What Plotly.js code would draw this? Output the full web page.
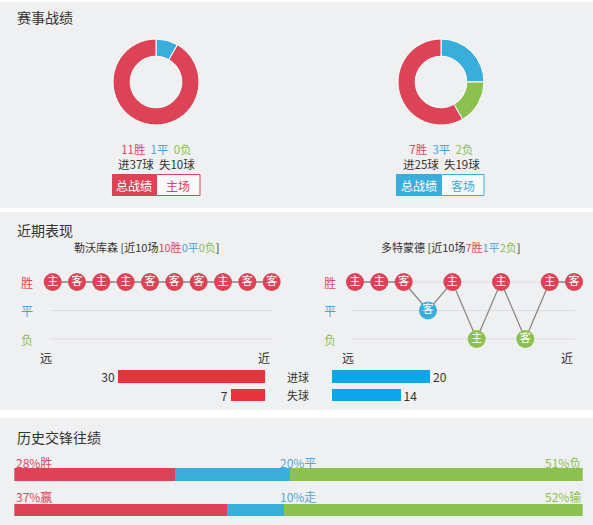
<!DOCTYPE html>
<html><head><meta charset="utf-8">
<script src="https://cdn.plot.ly/plotly-3.0.1.min.js"></script>
<style>html,body{margin:0;padding:0;background:#fff}#c{width:593px;height:525px}</style>
</head><body><div id="c"></div>
<script>
// ---------- data ----------
const sectionTitles = ['赛事战绩', '近期表现', '历史交锋往绩'];
const outcomeLabels = ['胜', '平', '负'];
const team1Name = '勒沃库森';
const team2Name = '多特蒙德';
const team1Record = [11, 1, 0];     // 胜 平 负
const team2Record = [7, 3, 2];
const team1Goals = [37, 10];        // 进 失
const team2Goals = [25, 19];
const team1Button = '主场';
const team2Button = '客场';
const totalButton = '总战绩';
const team1Form = ['W','W','W','W','W','W','W','W','W','W'];
const team1Venue = ['主','客','主','主','客','客','客','主','客','客'];
const team2Form = ['W','W','W','D','W','L','W','L','W','W'];
const team2Venue = ['主','主','客','客','主','主','主','客','主','客'];
const recentGoalLabels = ['进球', '失球'];
const team1RecentGoals = [30, 7];
const team2RecentGoals = [20, 14];
const farNear = ['远', '近'];
const h2hRow1 = [28, 20, 51];
const h2hRow1Labels = ['胜', '平', '负'];
const h2hRow2 = [37, 10, 52];
const h2hRow2Labels = ['赢', '走', '输'];

// ---------- styling / geometry ----------
const W = 593, H = 525;
const RED = '#dc4356', BLUE = '#3aaedb', GREEN = '#8cc152';
const TRED = '#d9495a', TBLUE = '#4aa3d8', TGREEN = '#8cc152';
const FONT = '"Noto Sans CJK SC", "Noto Sans", sans-serif';
const px = x => x / W, py = y => 1 - y / H;
const dx = (a, b) => [a / W, b / W];
const dy = (t, b) => [1 - b / H, 1 - t / H];
const resColor = {W: RED, D: BLUE, L: GREEN};
const resVal = {W: 2, D: 1, L: 0};

function ann(text, x, y, opts) {
  return Object.assign({text, x: px(x), y: py(y), xref: 'paper', yref: 'paper',
    showarrow: false, xanchor: 'center', yanchor: 'middle',
    font: {family: FONT, size: 12, color: '#333'}}, opts || {});
}
function rect(x0, y0, x1, y1, fill, line) {
  return {type: 'rect', xref: 'paper', yref: 'paper', x0: px(x0), x1: px(x1), y0: py(y1), y1: py(y0),
    fillcolor: fill, line: {width: line ? 1 : 0, color: line || fill}, layer: 'below'};
}
function recordText(rec, goals) {
  const cs = [TRED, TBLUE, TGREEN];
  const top = rec.map((v, i) => `<span style="color:${cs[i]}">${v}${outcomeLabels[i]}</span>`).join('&nbsp;&nbsp;');
  return top + `<br>进${goals[0]}球&nbsp;&nbsp;失${goals[1]}球`;
}
function formSummary(name, form) {
  const w = form.filter(f => f === 'W').length, d = form.filter(f => f === 'D').length, l = form.filter(f => f === 'L').length;
  return `${name} [近${form.length}场<span style="color:${TRED}">${w}胜</span><span style="color:${TBLUE}">${d}平</span><span style="color:${TGREEN}">${l}负</span>]`;
}

const traces = [];
// donuts
[[team1Record, 113, 199], [team2Record, 398, 484]].forEach(([rec, a, b]) => {
  traces.push({type: 'pie', values: [rec[1], rec[2], rec[0]], labels: ['平', '负', '胜'],
    marker: {colors: [BLUE, GREEN, RED], line: {color: '#fff', width: 1}},
    sort: false, direction: 'clockwise', rotation: 0, hole: 0.6, textinfo: 'none',
    hoverinfo: 'none', showlegend: false, domain: {x: dx(a, b), y: dy(39, 125)}});
});

// recent form lines
const xs = team1Form.map((_, i) => i + 1);
[[team1Form, team1Venue, 'x2', 'y2'], [team2Form, team2Venue, 'x3', 'y3']].forEach(([f, v, xa, ya]) => {
  traces.push({type: 'scatter', mode: 'lines+markers+text', x: xs, y: f.map(r => resVal[r]),
    text: v, textposition: 'middle center', textfont: {family: FONT, size: 11, color: '#fff'},
    line: {color: '#8a8a8a', width: 1.3},
    marker: {size: 18, color: f.map(r => resColor[r]), line: {width: 0}},
    xaxis: xa, yaxis: ya, showlegend: false, cliponaxis: false, hoverinfo: 'none'});
});

// recent goals bars
traces.push({type: 'bar', orientation: 'h', y: [0, 1], x: team1RecentGoals, width: 0.7,
  marker: {color: '#e8333d', line: {width: 0}}, text: team1RecentGoals.map(String),
  textposition: 'outside', constraintext: 'none', textfont: {family: FONT, size: 12, color: '#333'}, cliponaxis: false,
  xaxis: 'x4', yaxis: 'y4', showlegend: false, hoverinfo: 'none'});
traces.push({type: 'bar', orientation: 'h', y: [0, 1], x: team2RecentGoals, width: 0.7,
  marker: {color: '#0fa5e9', line: {width: 0}}, text: team2RecentGoals.map(String),
  textposition: 'outside', constraintext: 'none', textfont: {family: FONT, size: 12, color: '#333'}, cliponaxis: false,
  xaxis: 'x5', yaxis: 'y5', showlegend: false, hoverinfo: 'none'});

// h2h stacked bars
[RED, BLUE, GREEN].forEach((c, i) => {
  traces.push({type: 'bar', orientation: 'h', y: [0, 1], x: [h2hRow1[i], h2hRow2[i]], width: 0.35,
    marker: {color: c, line: {width: 0}}, xaxis: 'x6', yaxis: 'y6', showlegend: false,
    hoverinfo: 'none', textposition: 'none'});
});

const hid = {visible: false, fixedrange: true};
const rowsGrid = [0, 1, 2];
const shapes = [
  rect(0, 2, 593, 208, '#eff0f2'),
  rect(0, 212, 593, 410, '#eff0f2'),
  rect(0, 418, 593, 525, '#eff0f2'),
  rect(112, 174, 156, 196, RED),
  rect(156.5, 174.5, 200, 195.5, '#f9f9fa', RED),
  rect(396, 174, 441, 196, BLUE),
  rect(441.5, 174.5, 484, 195.5, '#f9f9fa', BLUE),
];
rowsGrid.forEach(r => {
  shapes.push({type: 'line', xref: 'paper', yref: 'y2', x0: px(50), x1: px(273), y0: r, y1: r,
    line: {color: '#dcdde1', width: 1}, layer: 'below'});
  shapes.push({type: 'line', xref: 'paper', yref: 'y3', x0: px(352), x1: px(575), y0: r, y1: r,
    line: {color: '#dcdde1', width: 1}, layer: 'below'});
});

const yLabelColors = [TRED, TBLUE, TGREEN];
const yLabelPos = [282, 310.5, 339];
const annotations = [
  ann(sectionTitles[0], 15, 17, {xanchor: 'left', font: {family: FONT, size: 14, color: '#333'}}),
  ann(sectionTitles[1], 15, 230, {xanchor: 'left', font: {family: FONT, size: 14, color: '#333'}}),
  ann(sectionTitles[2], 15, 437, {xanchor: 'left', font: {family: FONT, size: 14, color: '#333'}}),
  ann(recordText(team1Record, team1Goals), 156, 156, {font: {family: FONT, size: 11.5, color: '#333'}}),
  ann(recordText(team2Record, team2Goals), 441, 156, {font: {family: FONT, size: 11.5, color: '#333'}}),
  ann(totalButton, 134, 185, {font: {family: FONT, size: 12, color: '#fff'}}),
  ann(team1Button, 178, 185, {font: {family: FONT, size: 12, color: RED}}),
  ann(totalButton, 418.5, 185, {font: {family: FONT, size: 12, color: '#fff'}}),
  ann(team2Button, 462.5, 185, {font: {family: FONT, size: 12, color: BLUE}}),
  ann(formSummary(team1Name, team1Form), 147, 247, {font: {family: FONT, size: 11, color: '#333'}}),
  ann(formSummary(team2Name, team2Form), 450, 247, {font: {family: FONT, size: 11, color: '#333'}}),
  ann(farNear[0], 46, 357), ann(farNear[1], 264, 357),
  ann(farNear[0], 348, 357), ann(farNear[1], 567, 357),
  ann(recentGoalLabels[0], 298, 376.5, {font: {family: FONT, size: 11, color: '#333'}}),
  ann(recentGoalLabels[1], 298, 395, {font: {family: FONT, size: 11, color: '#333'}}),
];
outcomeLabels.forEach((l, i) => {
  annotations.push(ann(l, 27, yLabelPos[i], {font: {family: FONT, size: 12, color: yLabelColors[i]}}));
  annotations.push(ann(l, 330, yLabelPos[i], {font: {family: FONT, size: 12, color: yLabelColors[i]}}));
});
[[h2hRow1, h2hRow1Labels, 462], [h2hRow2, h2hRow2Labels, 496]].forEach(([vals, labs, y]) => {
  annotations.push(ann(vals[0] + '%' + labs[0], 14, y, {xanchor: 'left', font: {family: FONT, size: 12, color: TRED}}));
  annotations.push(ann(vals[1] + '%' + labs[1], 298, y, {font: {family: FONT, size: 12, color: '#5aa5d6'}}));
  annotations.push(ann(vals[2] + '%' + labs[2], 583, y, {xanchor: 'right', font: {family: FONT, size: 12, color: TGREEN}}));
});

const layout = {
  width: W, height: H, margin: {l: 0, r: 0, t: 0, b: 0},
  paper_bgcolor: '#fff', plot_bgcolor: 'rgba(0,0,0,0)',
  font: {family: FONT}, showlegend: false, hovermode: false, barmode: 'stack',
  xaxis2: Object.assign({domain: dx(40.5, 283.8), range: [0.5, 10.5], anchor: 'y2'}, hid),
  yaxis2: Object.assign({domain: dy(267.75, 353.25), range: [-0.5, 2.5], anchor: 'x2'}, hid),
  xaxis3: Object.assign({domain: dx(342.8, 586.2), range: [0.5, 10.5], anchor: 'y3'}, hid),
  yaxis3: Object.assign({domain: dy(267.75, 353.25), range: [-0.5, 2.5], anchor: 'x3'}, hid),
  xaxis4: Object.assign({domain: dx(100, 265), range: [33.67, 0], anchor: 'y4'}, hid),
  yaxis4: Object.assign({domain: dy(367.25, 404.25), range: [1.5, -0.5], anchor: 'x4'}, hid),
  xaxis5: Object.assign({domain: dx(332, 497), range: [0, 33.67], anchor: 'y5'}, hid),
  yaxis5: Object.assign({domain: dy(367.25, 404.25), range: [1.5, -0.5], anchor: 'x5'}, hid),
  xaxis6: Object.assign({domain: dx(14.3, 582.7), range: [0, 99], anchor: 'y6'}, hid),
  yaxis6: Object.assign({domain: dy(456.75, 520.65), range: [1.3, -0.5], anchor: 'x6'}, hid),
  shapes, annotations
};
Plotly.newPlot('c', traces, layout, {staticPlot: true, displayModeBar: false});
</script></body></html>
